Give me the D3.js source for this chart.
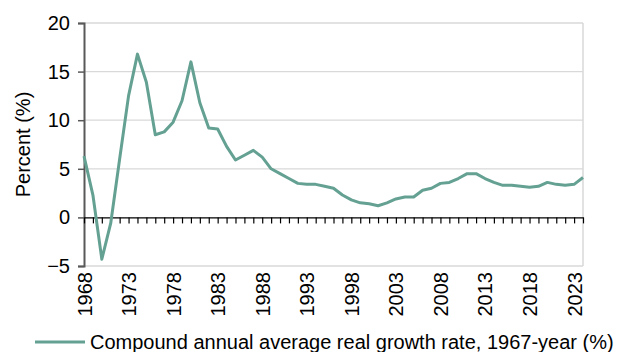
<!DOCTYPE html>
<html><head><meta charset="utf-8">
<script src="https://cdn.jsdelivr.net/npm/d3@7"></script>
<style>body{margin:0;background:#fff}text{font-family:"Liberation Sans",Arial,sans-serif}</style>
</head><body><svg id="c" width="620" height="352"></svg>
<script>
const firstYear = 1968, lastYear = 2024;
const tickYears = [1968,1973,1978,1983,1988,1993,1998,2003,2008,2013,2018,2023];
const yTicks = [-5,0,5,10,15,20];
const seriesName = "Compound annual average real growth rate, 1967-year (%)";
const growth = [6.3,2.3,-4.3,-0.6,6.0,12.5,16.8,13.9,8.5,8.8,9.8,12.0,16.0,11.8,9.2,9.1,7.3,5.9,6.4,6.9,6.2,5.0,4.5,4.0,3.5,3.4,3.4,3.2,3.0,2.3,1.8,1.5,1.4,1.2,1.5,1.9,2.1,2.1,2.8,3.0,3.5,3.6,4.0,4.5,4.5,4.0,3.6,3.3,3.3,3.2,3.1,3.2,3.6,3.4,3.3,3.4,4.1];
const years = d3.range(firstYear, lastYear + 1);
const data = years.map((y,i)=>({year:y, v:growth[i]}));

const svg = d3.select("#c");
const FONT = "Liberation Sans, Arial, sans-serif";
const FS = 20;
const L = 84, R = 583, T = 23, B = 266;
const x = d3.scaleLinear().domain([firstYear,lastYear]).range([L,R]);
const y = d3.scaleLinear().domain([-5,20]).range([B,T]);
const color = "#64A193";

// gridlines
svg.append("g").selectAll("line").data(yTicks.filter(d=>d>0)).join("line")
  .attr("x1",L).attr("x2",R).attr("y1",d=>y(d)).attr("y2",d=>y(d))
  .attr("stroke","#d9d9d9").attr("stroke-width",1.3);
// border right and bottom
svg.append("line").attr("x1",R).attr("x2",R).attr("y1",T).attr("y2",B).attr("stroke","#d9d9d9").attr("stroke-width",1.5);
svg.append("line").attr("x1",L).attr("x2",R).attr("y1",B).attr("y2",B).attr("stroke","#d9d9d9").attr("stroke-width",1.5);

// y axis
const ya = svg.append("g").attr("transform",`translate(${L},0)`)
  .call(d3.axisLeft(y).tickValues(yTicks).tickSize(6).tickPadding(8));
ya.select(".domain").attr("stroke","#595959").attr("stroke-width",2);
ya.selectAll(".tick line").attr("stroke","#595959").attr("stroke-width",1.5);
ya.selectAll("text").attr("font-size",FS).attr("fill","#000").style("font-family",FONT);

// zero axis with yearly ticks
const za = svg.append("g").attr("transform",`translate(0,${y(0)})`)
  .call(d3.axisBottom(x).tickValues(years).tickSize(6).tickFormat("").tickSizeOuter(0));
za.select(".domain").attr("stroke","#000").attr("stroke-width",1.3);
za.selectAll(".tick line").attr("stroke","#000").attr("stroke-width",1.2);

// x labels at bottom
const xa = svg.append("g").attr("transform",`translate(0,${B})`)
  .call(d3.axisBottom(x).tickValues(tickYears).tickFormat(d3.format("d")).tickSize(0));
xa.select(".domain").remove();
xa.selectAll("text").attr("font-size",FS).attr("fill","#000")
  .style("font-family",FONT)
  .attr("transform","rotate(-90)").attr("text-anchor","end")
  .attr("x",-6).attr("y",0).attr("dy","0.35em");

// y title
svg.append("text").attr("transform",`translate(30,${(T+B)/2}) rotate(-90)`)
  .attr("text-anchor","middle").attr("font-size",FS).attr("fill","#000").text("Percent (%)");

// line
svg.append("path").datum(data)
  .attr("d", d3.line().x(d=>x(d.year)).y(d=>y(d.v)))
  .attr("fill","none").attr("stroke",color).attr("stroke-width",3).attr("stroke-linejoin","round");

// legend
svg.append("line").attr("x1",35).attr("x2",85).attr("y1",342).attr("y2",342).attr("stroke",color).attr("stroke-width",3);
svg.append("text").attr("x",90).attr("y",342).attr("dy","0.35em").attr("font-size",FS).attr("fill","#000").text(seriesName);
</script></body></html>
